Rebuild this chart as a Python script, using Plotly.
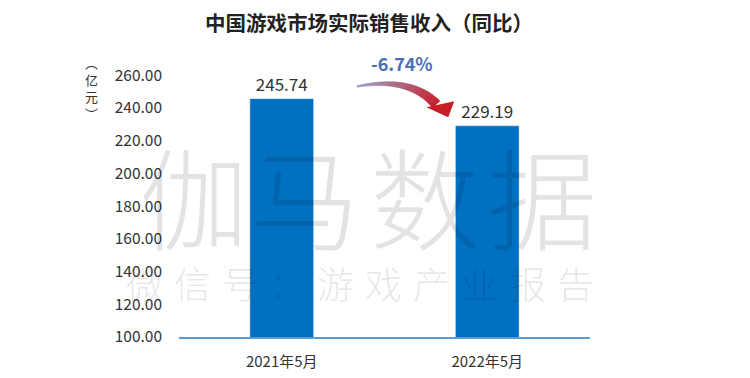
import plotly.graph_objects as go

categories = ["2021年5月", "2022年5月"]
values = [245.74, 229.19]
tick_vals = [100, 120, 140, 160, 180, 200, 220, 240, 260]
tick_text = ["%.2f" % v for v in tick_vals]
change_label = "-6.74%"
title = "中国游戏市场实际销售收入（同比）"
wm_line1 = "伽马数据"
wm_line2 = "微信号：游戏产业报告"

OFF = 8  # page body margin
W, H = 750 - OFF, 378 - OFF
L, R = 178.75 - OFF, 589.75 - OFF
T, B = 58.6 - OFF, 337.0 - OFF
FONT = "Noto Sans CJK SC, Noto Sans, sans-serif"

def px(x):
    return (x - OFF - L) / (R - L)

def py(y):
    return (B - (y - OFF)) / (B - T)

def ann(text, x, y, size, color, weight=None, **kw):
    f = dict(size=size, color=color, family=FONT)
    if weight:
        f["weight"] = weight
    d = dict(text=text, x=px(x), y=py(y), xref="paper", yref="paper", showarrow=False,
             xanchor="center", yanchor="middle", font=f)
    d.update(kw)
    return d

fig = go.Figure()
fig.add_trace(go.Bar(
    x=categories, y=values, marker_color="#0070C0",
    text=["%.2f" % v for v in values], textposition="outside",
    textfont=dict(size=17, color="#333333", family=FONT),
    cliponaxis=False, width=0.31,
))

annotations = []
annotations.append(ann("<b>" + title + "</b>", 369, 22, 20.5, "#222222"))
annotations.append(ann("︵<br>亿<br>元<br>︶", 91, 88, 13, "#333333", align="center"))
annotations.append(ann("<b>" + change_label + "</b>", 402, 63, 18, "#4A6FB5"))
c1 = [194, 305, 425, 542]
for ch, cx in zip(wm_line1, c1):
    annotations.append(ann(ch, cx, 194, 110, "rgba(0,0,0,0.11)", weight=300))
n = len(wm_line2)
for i, ch in enumerate(wm_line2):
    cx = 144 + i * (575 - 144) / (n - 1)
    annotations.append(ann(ch, cx, 283, 37, "rgba(0,0,0,0.11)", weight=300))

# curved gradient arrow
shapes = []
def bez(t, p0, p1, p2):
    return ((1 - t) ** 2 * p0[0] + 2 * (1 - t) * t * p1[0] + t * t * p2[0],
            (1 - t) ** 2 * p0[1] + 2 * (1 - t) * t * p1[1] + t * t * p2[1])
P0, P1, P2 = (357, 86), (410, 76), (436, 104)
N = 24
c_start = (150, 160, 205)
c_end = (200, 30, 40)
pts = []
for k in range(N + 1):
    t = k / N
    x, y = bez(t, P0, P1, P2)
    dx = 2 * (1 - t) * (P1[0] - P0[0]) + 2 * t * (P2[0] - P1[0])
    dy = 2 * (1 - t) * (P1[1] - P0[1]) + 2 * t * (P2[1] - P1[1])
    nrm = (dx * dx + dy * dy) ** 0.5
    nx, ny = -dy / nrm, dx / nrm
    w = 0.8 + 4.2 * t
    pts.append(((x + nx * w, y + ny * w), (x - nx * w, y - ny * w)))
for k in range(N):
    a1, b1 = pts[k]
    a2, b2 = pts[k + 1]
    t = (k + 0.5) / N
    col = tuple(int(c_start[j] + (c_end[j] - c_start[j]) * t) for j in range(3))
    path = "M %f,%f L %f,%f L %f,%f L %f,%f Z" % (
        px(a1[0]), py(a1[1]), px(a2[0]), py(a2[1]), px(b2[0]), py(b2[1]), px(b1[0]), py(b1[1]))
    shapes.append(dict(type="path", path=path, xref="paper", yref="paper",
                       fillcolor="rgb(%d,%d,%d)" % col, line=dict(width=0.6, color="rgb(%d,%d,%d)" % col)))
head = [(426, 107), (454, 101), (448, 117)]
path = "M %f,%f L %f,%f L %f,%f Z" % tuple(v for p in head for v in (px(p[0]), py(p[1])))
shapes.append(dict(type="path", path=path, xref="paper", yref="paper",
                   fillcolor="rgb(200,30,40)", line=dict(width=0)))

fig.update_layout(
    width=W, height=H,
    margin=dict(l=L, r=W - R, t=T, b=H - B, pad=0),
    plot_bgcolor="white", paper_bgcolor="white",
    showlegend=False,
    font=dict(family=FONT, color="#333333"),
    bargap=0.69,
    xaxis=dict(showline=True, linecolor="#5B9BD5", linewidth=1.5, showgrid=False,
               ticks="", tickfont=dict(size=15, color="#333333"), ticklabelstandoff=10,
               automargin=False),
    yaxis=dict(range=[100, 270], tickvals=tick_vals, ticktext=tick_text,
               showgrid=False, zeroline=False, showline=False, ticks="",
               tickfont=dict(size=15.5, color="#333333"), ticklabelstandoff=16,
               automargin=False),
    annotations=annotations, shapes=shapes,
)
fig.write_html("out.html")
